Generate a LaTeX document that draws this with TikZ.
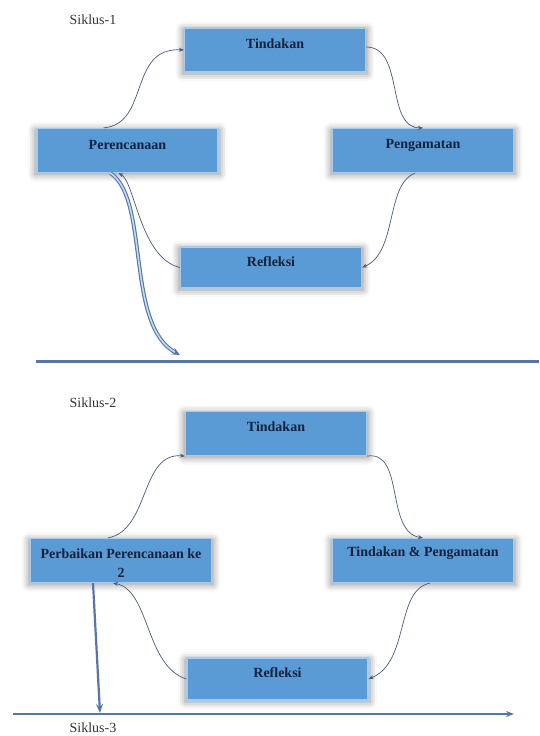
\documentclass[tikz,border=0pt]{standalone}
\usepackage{fontspec}
\setmainfont{Liberation Serif}
\usetikzlibrary{arrows.meta,shadows.blur,calc}
\definecolor{boxfill}{HTML}{5B9BD5}
\definecolor{boxedge}{HTML}{A9CBEB}
\definecolor{boxtext}{HTML}{14213D}
\definecolor{conn}{HTML}{4A5A78}
\definecolor{thickblue}{HTML}{5676A8}
\tikzset{
  stagebox/.style={rectangle, fill=boxfill, draw=boxedge, line width=1.2pt,
    minimum width=181pt, minimum height=44pt, inner sep=0pt,
    blur shadow={shadow xshift=0pt, shadow yshift=-1.5pt, shadow blur radius=7pt, shadow opacity=45, shadow scale=1.02}},
  lbl/.style={font=\fontsize{14}{19}\selectfont\bfseries, text=boxtext, inner sep=0pt, align=center},
  cyc/.style={font=\fontsize{14}{16}\selectfont, text=black!80, inner sep=0pt},
  conarrow/.style={draw=conn, line width=0.7pt, -{Stealth[length=5pt,width=4pt]}},
}
\begin{document}
\begin{tikzpicture}[x=1pt,y=-1pt]
\useasboundingbox (0,0) rectangle (539,736);
% ---------- Siklus 1 ----------
\node[cyc] (s1) at (93,20) {Siklus-1};
\node[stagebox] (t1) at (275,50) {};
\node[stagebox] (p1) at (127.5,150.5) {};
\node[stagebox] (p2) at (423,150.5) {};
\node[stagebox, minimum height=41pt] (r1) at (271,267.5) {};
\node[lbl] (t1l) at (275,44) {Tindakan};
\node[lbl] (p1l) at (127.5,145) {Perencanaan};
\node[lbl] (p2l) at (423,145) {Pengamatan};
\node[lbl] (r1l) at (271,262) {Refleksi};
% connectors
\draw[conarrow] ([xshift=-24pt]p1.north) .. controls (150,124) and (128,47) .. (t1.west);
\draw[conarrow] ([yshift=3pt]t1.east) .. controls (405,47) and (385,128) .. (p2.north);
\draw[conarrow] ([xshift=-8pt]p2.south) .. controls (385,185) and (398,252) .. (r1.east);
\draw[conarrow] (r1.west) .. controls (140,258) and (135,182) .. ([xshift=-9pt]p1.south);
% thick double arrow and base line
\coordinate (e1) at (180,355);
\coordinate (l1a) at (36,361);
\coordinate (l1b) at (539,361);
\draw[draw=thickblue, line width=3pt] (l1a) -- (l1b);
\draw[draw=thickblue, double=boxedge!70, double distance=1.6pt, line width=1.1pt,
      -{Stealth[length=8pt,width=7pt]}]
  ([xshift=-17pt]p1.south) .. controls (150,200) and (125,325) .. (e1);
% ---------- Siklus 2 ----------
\node[cyc] (s2) at (93,403) {Siklus-2};
\node[stagebox] (t2) at (276,433.5) {};
\node[stagebox] (b1) at (121,560.5) {};
\node[stagebox] (tp) at (423,560.5) {};
\node[stagebox, minimum height=42pt] (r2) at (277.5,679) {};
\node[lbl] (t2l) at (276,427) {Tindakan};
\node[lbl] (b1l) at (121,563) {Perbaikan Perencanaan ke\\2};
\node[lbl] (tpl) at (423,553) {Tindakan \& Pengamatan};
\node[lbl] (r2l) at (277.5,673) {Refleksi};
% connectors
\draw[conarrow] ([xshift=-13pt]b1.north) .. controls (150,530) and (140,452) .. (t2.south west);
\draw[conarrow] (t2.south east) .. controls (405,450) and (385,532) .. (tp.north);
\draw[conarrow] ([xshift=7pt]tp.south) .. controls (395,590) and (410,662) .. (r2.east);
\draw[conarrow] (r2.west) .. controls (145,666) and (150,590) .. ([xshift=-8pt]b1.south);
% straight thick arrow and base line
\coordinate (e2) at (100,713);
\coordinate (l2a) at (13,714);
\coordinate (l2b) at (514,714);
\draw[draw=thickblue, line width=2.2pt, -{Stealth[length=9pt,width=7pt]}] ([xshift=-28pt]b1.south) -- (e2);
\draw[draw=thickblue, line width=1.4pt, -{Stealth[length=8pt,width=6pt]}] (l2a) -- (l2b);
\node[cyc] (s3) at (93,728) {Siklus-3};
\end{tikzpicture}
\end{document}
